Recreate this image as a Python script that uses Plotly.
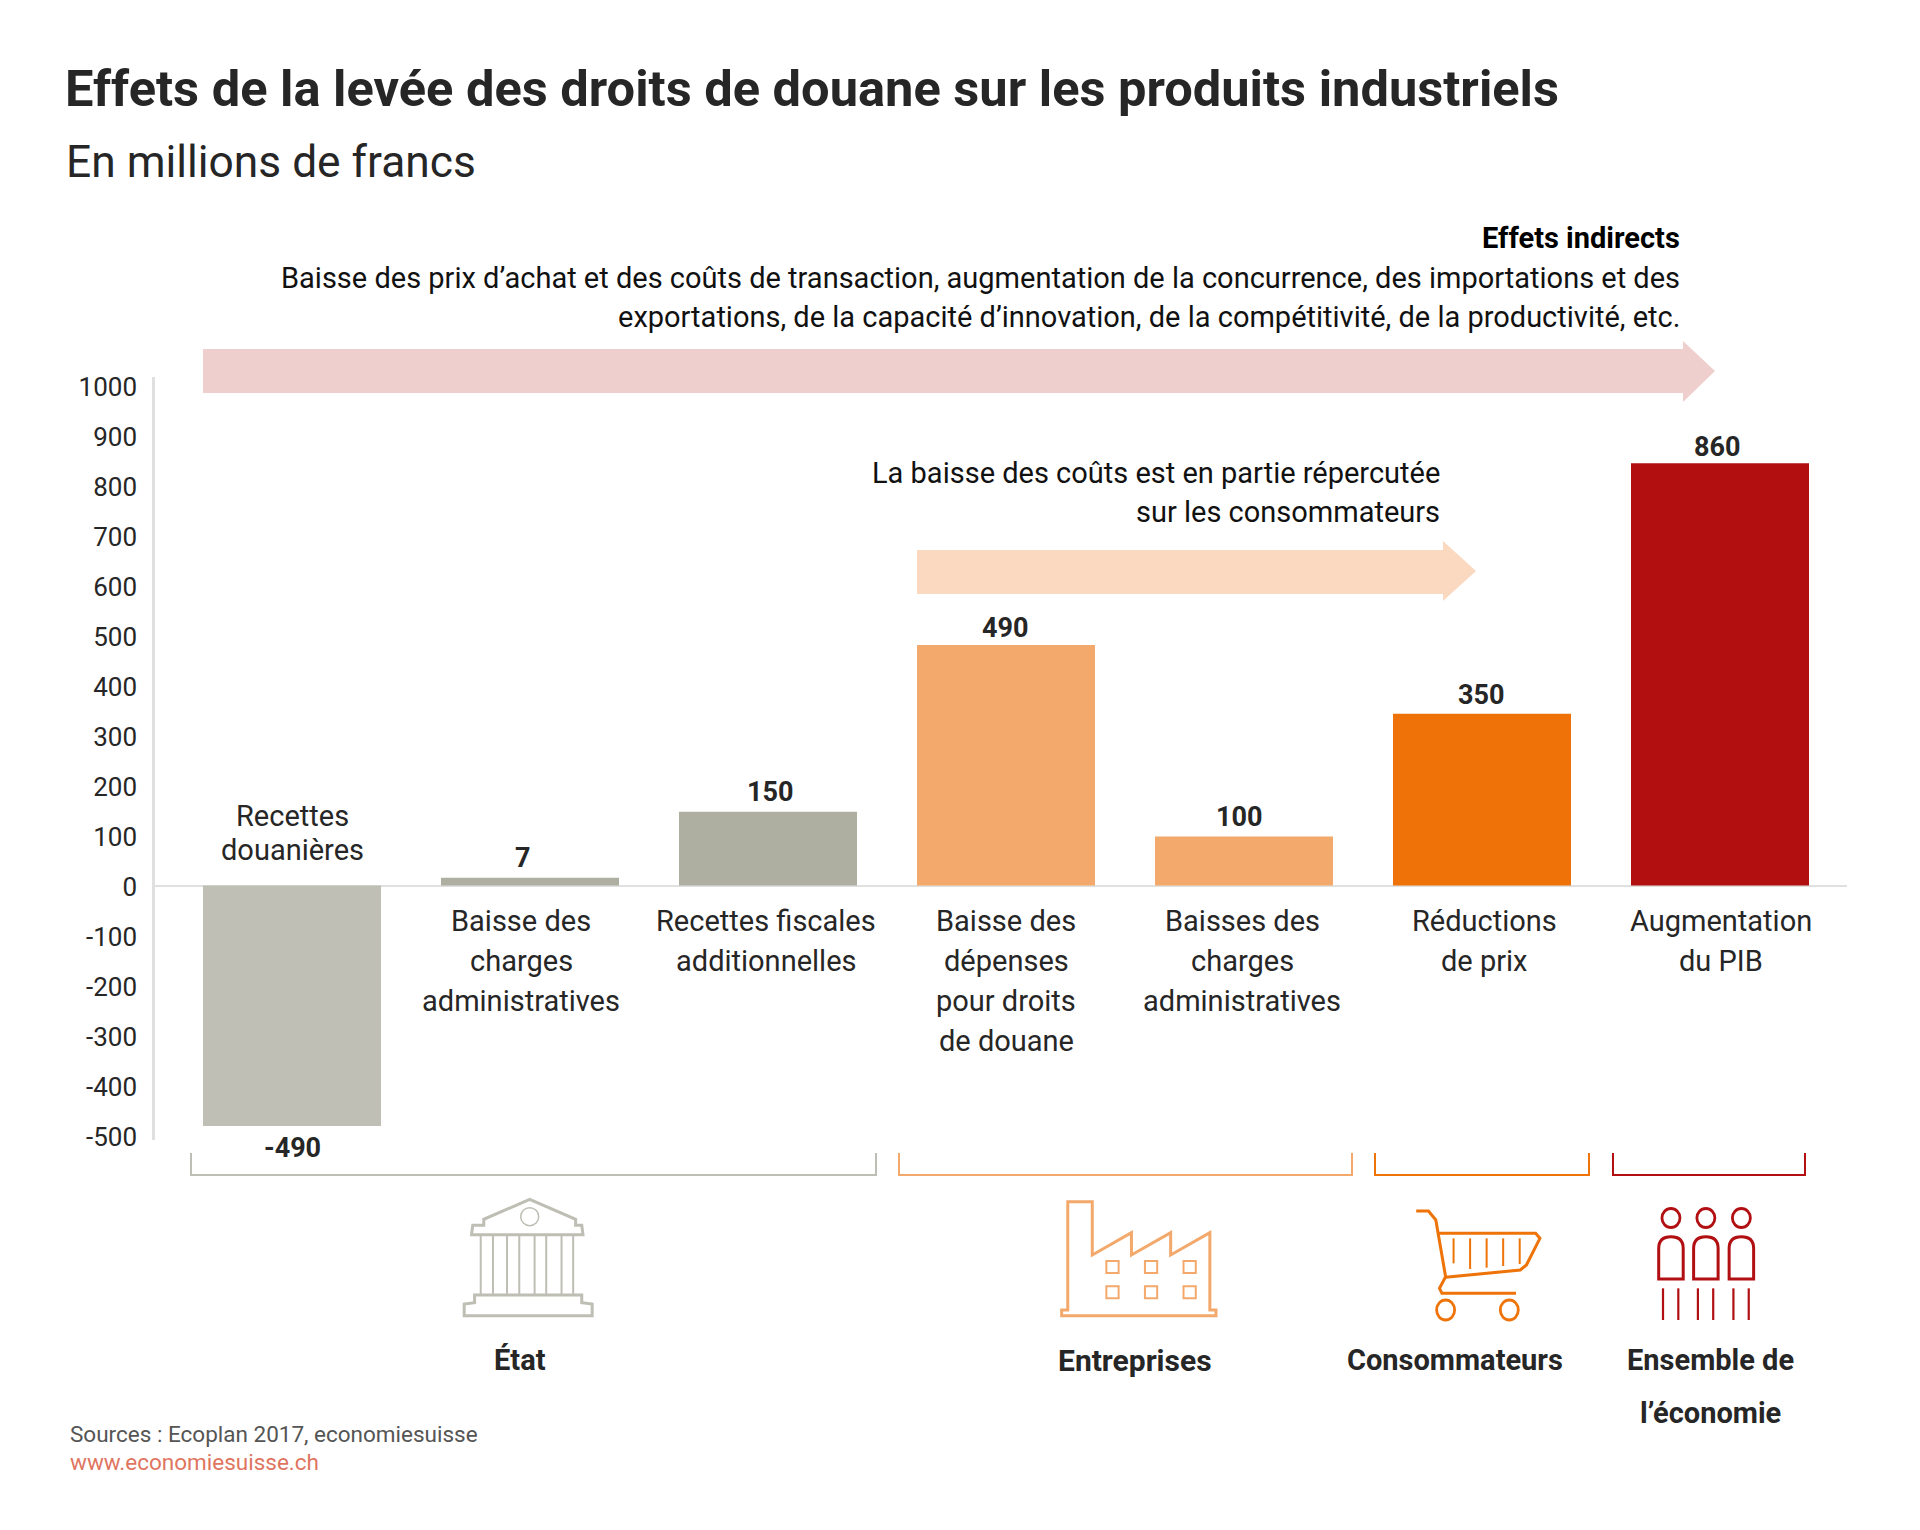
import plotly.graph_objects as go

W, H = 1920, 1530
FONT = "Roboto"
DARK = "#262626"

# --- data ---
categories = ["Recettes douanières", "Baisse des charges administratives",
              "Recettes fiscales additionnelles",
              "Baisse des dépenses pour droits de douane",
              "Baisses des charges administratives",
              "Réductions de prix", "Augmentation du PIB"]
bar_values = [-490, 16, 150, 490, 100, 350, 860]      # heights as drawn in the picture
value_labels = ["-490", "7", "150", "490", "100", "350", "860"]  # numbers as printed
bar_colors = ["#BFBFB5", "#AEAEA1", "#AEAEA1", "#F3A96B", "#F3A96B", "#EE7207", "#B20F10"]
tick_values = list(range(-500, 1001, 100))
tick_labels = [str(v) for v in tick_values]

title = "Effets de la levée des droits de douane sur les produits industriels"
subtitle = "En millions de francs"

def X(p): return p / W
def Y(p): return 1 - p / H

# geometry of the value axis and of the bars (pixels)
AX_LEFT, AX_RIGHT, AX_TOP, AX_BOTTOM = 155, 1847, 377, 1140
PITCH, FIRST_CENTER, BAR_W = 238, 292, 178
ZERO_TICK, TICK_SCALE = 887, 0.5
ZERO_BAR, BAR_SCALE = 885.5, 0.491
LABEL_DX = [0, -7, 2, -1, -5, -1, -3]
LABEL_DY = [-22, 20, 20, 17, 19, 19, 16]

fig = go.Figure()
fig.add_trace(go.Scatter(x=[categories[0]], y=[0], mode="none", yaxis="y",
                         hoverinfo="skip", showlegend=False))
fig.add_trace(go.Bar(x=categories, y=bar_values, yaxis="y2", marker_color=bar_colors,
                     marker_line_width=0, width=BAR_W / PITCH, showlegend=False, cliponaxis=False))

annotations = []
def text(s, x, y, size=29, anchor="center", color=DARK, bold=False):
    annotations.append(dict(text=s, x=X(x), y=Y(y), xref="paper", yref="paper", showarrow=False,
                            xanchor=anchor, yanchor="middle",
                            font=dict(family=FONT, size=size, color=color, weight=700 if bold else 400)))

for cat, v, lab, dx, dy in zip(categories, bar_values, value_labels, LABEL_DX, LABEL_DY):
    annotations.append(dict(text=lab, x=cat, y=v, xref="x", yref="y2", showarrow=False,
                            xanchor="center", yanchor="middle", xshift=dx, yshift=dy,
                            font=dict(family=FONT, size=27, color=DARK, weight=700)))

text(subtitle, 64, 162.5, size=44.3, anchor="left")
text("Effets indirects", 1682, 238, anchor="right", color="#000000", bold=True)
text("Baisse des prix d’achat et des coûts de transaction, augmentation de la concurrence, des importations et des",
     1682, 278, anchor="right", color="#111111")
text("exportations, de la capacité d’innovation, de la compétitivité, de la productivité, etc.",
     1682, 317, anchor="right", color="#111111")
text("La baisse des coûts est en partie répercutée", 1442, 473, anchor="right", color="#111111")
text("sur les consommateurs", 1442, 512, anchor="right", color="#111111")

cat_lines = [
    (292, 816, ["Recettes", "douanières"]),
    (521, 921, ["Baisse des", "charges", "administratives"]),
    (766, 921, ["Recettes fiscales", "additionnelles"]),
    (1006, 921, ["Baisse des", "dépenses", "pour droits", "de douane"]),
    (1242, 921, ["Baisses des", "charges", "administratives"]),
    (1484, 921, ["Réductions", "de prix"]),
    (1721, 921, ["Augmentation", "du PIB"]),
]
for x, y0, lines in cat_lines:
    step = 34 if y0 == 816 else 40
    for i, l in enumerate(lines):
        text(l, x, y0 + i * step)

text("État", 520, 1360, bold=True)
text("Entreprises", 1135, 1360, size=30, bold=True)
text("Consommateurs", 1455, 1360, bold=True)
text("Ensemble de", 1710, 1360, bold=True)
text("l’économie", 1710, 1413, bold=True)
text("Sources : Ecoplan 2017, economiesuisse", 68, 1434, size=22.5, anchor="left", color="#555555")
text("www.economiesuisse.ch", 68, 1462, size=22.5, anchor="left", color="#E0755F")

shapes = []
def path(d, color, width=2, fill=None):
    s = dict(type="path", path=d, xref="paper", yref="paper", layer="above",
             line=dict(color=color, width=width))
    if fill:
        s["fillcolor"] = fill
        s["line"] = dict(width=0)
    shapes.append(s)

def P(pts, closed=False):
    d = "M " + " L ".join(f"{X(a):.5f},{Y(b):.5f}" for a, b in pts)
    return d + (" Z" if closed else "")

LX = lambda v: v / 1.633
RX = lambda v: 960 + v / 1.633
CY = lambda v: 1120 + v / 3

def poly(pts, fx, color, width=3, closed=False):
    path(P([(fx(a), CY(b)) for a, b in pts], closed), color, width)

def ellipse(cx, cy, rx, ry, fx, color, width=2.8):
    shapes.append(dict(type="circle", xref="paper", yref="paper", layer="above",
                       x0=X(fx(cx) - rx), x1=X(fx(cx) + rx), y0=Y(CY(cy) - ry), y1=Y(CY(cy) + ry),
                       line=dict(color=color, width=width)))

# arrows
path(P([(203, 349), (1683, 349), (1683, 341), (1715, 371), (1683, 402), (1683, 393), (203, 393)], True),
     "#EFCFCE", fill="#EFCFCE")
path(P([(917, 550), (1443, 550), (1443, 541), (1476, 571), (1443, 601), (1443, 594), (917, 594)], True),
     "#FBD9C1", fill="#FBD9C1")

# brackets
GREY, PEACH, ORANGE, RED = "#BEBEB4", "#F3A96C", "#EE7308", "#B20F12"
for x0, x1, c in [(191, 876, GREY), (899, 1352, PEACH), (1375, 1589, ORANGE), (1613, 1805, RED)]:
    path(P([(x0, 1153), (x0, 1175), (x1, 1175), (x1, 1153)]), c, 2)

# bank icon
poly([(770, 344), (772, 316), (790, 316), (790, 298), (865, 238), (940, 298), (940, 316), (950, 316),
      (952, 344)], LX, GREY, closed=True)
ellipse(865, 290, 9, 9, LX, GREY, 1.5)
for cx in [785, 805, 828, 848, 873, 892, 917, 936]:
    poly([(cx, 344), (cx, 525)], LX, GREY, 2)
poly([(775, 525), (950, 525), (950, 548), (967, 552), (967, 587), (758, 587), (758, 552), (775, 548)],
     LX, GREY, closed=True)

# factory icon
poly([(176, 570), (176, 245), (216, 245), (216, 405), (280, 338), (280, 405), (344, 338), (344, 405),
      (408, 338), (408, 570), (418, 570), (418, 587), (166, 587), (166, 570)], RX, PEACH, closed=True)
for cx in [249, 312, 375]:
    for cy in [441, 517]:
        poly([(cx - 10, cy - 18), (cx + 10, cy - 18), (cx + 10, cy + 18), (cx - 10, cy + 18)], RX, PEACH, 2, True)

# cart icon
poly([(745, 273), (765, 273), (777, 300), (793, 470), (783, 505), (787, 520), (908, 520)], RX, ORANGE)
poly([(780, 340), (940, 340), (947, 355), (925, 435), (915, 450), (793, 472)], RX, ORANGE)
for cx, end in [(806, 430), (833, 447), (860, 443), (887, 438), (914, 432)]:
    poly([(cx, 355), (cx, end)], RX, ORANGE, 2)
ellipse(793, 570, 9, 10, RX, ORANGE)
ellipse(897, 570, 9, 10, RX, ORANGE)

# people icon
for cx in [1161, 1218, 1276]:
    ellipse(cx, 294, 9, 9.5, RX, RED)
    x0, x1 = RX(cx - 20), RX(cx + 20)
    top, sh, bot = CY(350), CY(385), CY(477)
    d = (f"M {X(x0):.5f},{Y(bot):.5f} L {X(x0):.5f},{Y(sh):.5f} "
         f"Q {X(x0):.5f},{Y(top):.5f} {X(RX(cx)):.5f},{Y(top):.5f} "
         f"Q {X(x1):.5f},{Y(top):.5f} {X(x1):.5f},{Y(sh):.5f} L {X(x1):.5f},{Y(bot):.5f} Z")
    path(d, RED, 3)
    for lx in [cx - 13, cx + 12]:
        poly([(lx, 505), (lx, 600)], RX, RED, 2.2)

fig.update_layout(
    width=W, height=H, margin=dict(l=0, r=0, t=0, b=0, pad=0, autoexpand=False),
    paper_bgcolor="white", plot_bgcolor="white", showlegend=False,
    title=dict(text=title, x=X(65), xanchor="left", xref="paper", y=Y(88), yanchor="middle", yref="container",
               automargin=False, font=dict(family=FONT, size=50.6, color=DARK, weight=700)),
    xaxis=dict(domain=[X(AX_LEFT), X(AX_RIGHT)], automargin=False,
               range=[(AX_LEFT - FIRST_CENTER) / PITCH, (AX_RIGHT - FIRST_CENTER) / PITCH], type="category",
               categoryorder="array", categoryarray=categories,
               showticklabels=False, ticks="", showgrid=False, zeroline=False, showline=False, anchor="y"),
    yaxis=dict(domain=[Y(AX_BOTTOM), Y(AX_TOP)], automargin=False,
               range=[(ZERO_TICK - AX_BOTTOM) / TICK_SCALE, (ZERO_TICK - AX_TOP) / TICK_SCALE],
               tickmode="array", tickvals=tick_values, ticktext=tick_labels, ticks="",
               ticklabelstandoff=10, tickfont=dict(family=FONT, size=26, color=DARK),
               showgrid=False, zeroline=False, showline=True, linecolor="#E0E0E0", linewidth=2.5,
               anchor="x"),
    yaxis2=dict(overlaying="y", side="left", automargin=False,
                range=[(ZERO_BAR - AX_BOTTOM) / BAR_SCALE, (ZERO_BAR - AX_TOP) / BAR_SCALE],
                showticklabels=False, ticks="", showgrid=False, showline=False,
                zeroline=True, zerolinecolor="#E0E0E0", zerolinewidth=2),
    annotations=annotations, shapes=shapes,
)

fig.write_html("out.html", config=dict(displayModeBar=False),
               post_script="document.documentElement.style.margin='0';document.body.style.margin='0';"
                           "document.documentElement.style.overflow='hidden';")
